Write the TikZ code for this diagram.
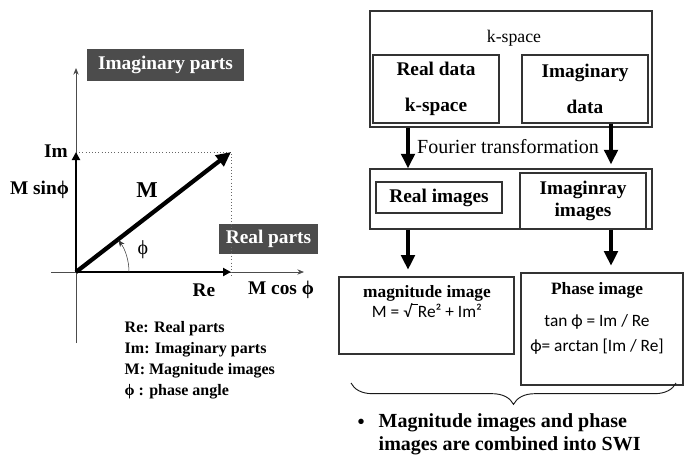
\documentclass[tikz,border=0pt]{standalone}
\usepackage{fontspec}
\setmainfont{Liberation Serif}
\newfontfamily\timesfont{Liberation Serif}
\newfontfamily\calibfont{Carlito}
\usetikzlibrary{arrows.meta,positioning,fit,decorations.pathreplacing}

\begin{document}
\begin{tikzpicture}[x=0.75pt,y=-0.75pt,
    box/.style={draw=black!80,line width=0.8pt,inner sep=0pt},
    tag/.style={fill=black!70,text=white,inner sep=0pt,font=\timesfont\bfseries\fontsize{14.5}{16}\selectfont},
    lab/.style={font=\timesfont\bfseries\fontsize{14.5}{16}\selectfont},
    plain/.style={font=\timesfont\fontsize{#1}{17}\selectfont},
    formula/.style={font=\calibfont\fontsize{13}{15}\selectfont},
    flow/.style={line width=3pt,-{Triangle[width=10pt,length=11pt]}},
    axis/.style={draw=black!70,line width=0.6pt,-{Stealth[length=5pt,width=4pt]}},
    comp/.style={line width=2pt,-{Triangle[width=6pt,length=6pt]}}]
    \useasboundingbox (0,0) rectangle (684,461);

    % phasor diagram
    \coordinate (O) at (76,272);
    \coordinate (S) at (231,152);
    \coordinate (ytop) at (76,68);
    \coordinate (ybot) at (76,343);
    \coordinate (xleft) at (51,272);
    \coordinate (xright) at (304,272);
    \draw[axis] (ybot) -- (ytop);
    \draw[axis] (xleft) -- (xright);

    \node[tag,minimum width=117.75pt,minimum height=24pt] (imtag) at (165.5,65) {Imaginary parts};
    \node[tag,minimum width=74.25pt,minimum height=22.5pt] (retag) at (268.5,239) {Real parts};

    \draw[dotted,black!60] (O |- S) -- (S) -- (S |- 0,277);
    \draw[comp] (O) -- (O |- S);
    \draw[comp] (O) -- (O -| S);
    \draw[line width=3.2pt,-{Triangle[width=10pt,length=11pt]}] (O) -- (S);
    \draw[black!80,-{Stealth[length=5pt,width=4pt]}] (129,272) arc[start angle=0,end angle=-37,radius=53];

    \node[lab] (imlab) at (56,151) {Im};
    \node[lab] (msin) at (39.5,190) {M sinϕ};
    \node[lab,font=\timesfont\bfseries\fontsize{17}{18}\selectfont] (mlab) at (147,190) {M};
    \node[plain=15] (philab) at (143,250) {ϕ};
    \node[lab] (relab) at (204,290) {Re};
    \node[lab] (mcos) at (281,290) {M cos ϕ};
    \node[anchor=north west,align=left,font=\timesfont\bfseries\fontsize{12}{15.75}\selectfont] (legend) at (120,317)
      {Re: Real parts\\Im: Imaginary parts\\M: Magnitude images\\ϕ : phase angle};

    % k-space and image boxes
    \node[box,fit={(370,11) (652,127)}] (kspace) {};
    \node[plain=13.3] (kspacelab) at (514,38) {k-space};
    \node[box,lab,minimum width=94.5pt,minimum height=51pt,align=center] (realdata) at (436,89) {Real data\\[11pt]k-space};
    \node[box,lab,minimum width=94.5pt,minimum height=51pt,align=center] (imagdata) at (585,89) {Imaginary\\[11pt]data};
    \node[plain=15] (fourier) at (508,147) {Fourier transformation};
    \node[box,fit={(370,169) (652,229)}] (images) {};
    \node[box,lab,minimum width=94.5pt,minimum height=23.25pt] (realimg) at (439,197.5) {Real images};
    \node[box,lab,fill=white,minimum width=94.5pt,minimum height=42pt,align=center] (imagimg) at (583,201) {Imaginray\\images};

    \node[box,minimum width=131.25pt,minimum height=57.75pt] (magbox) at (426.5,315.5) {};
    \node[lab,font=\timesfont\bfseries\fontsize{13}{15}\selectfont] (magtitle) at (427,293) {magnitude image};
    \node[formula] (magform) at (427,311) {M = √\raisebox{0.78em}{\rule{0.35em}{0.4pt}}Re² + Im²};
    \node[box,minimum width=121.5pt,minimum height=84pt] (phasebox) at (602,329) {};
    \node[lab,font=\timesfont\bfseries\fontsize{13}{15}\selectfont] (phasetitle) at (597,290) {Phase image};
    \node[formula] (tanform) at (597,322) {tan ϕ = Im / Re};
    \node[formula] (arcform) at (597,347) {ϕ= arctan [Im / Re]};

    % flow arrows
    \coordinate (colL) at (408,0);
    \coordinate (colR) at (611,0);
    \draw[flow] (kspace.south -| colL) -- (images.north -| colL);
    \draw[flow] (imagdata.south -| colR) -- ([yshift=6pt]imagimg.north -| colR);
    \draw[flow,shorten >=5pt] (images.south -| colL) -- (magbox.north -| colL);
    \draw[flow,shorten >=5pt] (imagimg.south -| colR) -- (phasebox.north -| colR);

    % combination
    \coordinate (bl) at (351,383);
    \coordinate (br) at (676,383);
    \draw[black!90,line width=0.7pt,decorate,decoration={brace,mirror,amplitude=16pt}] (bl) -- (br);
    \node[font=\timesfont\bfseries\fontsize{15}{17}\selectfont] (dot) at (361,424) {•};
    \node[anchor=west,align=left,font=\timesfont\bfseries\fontsize{15}{17}\selectfont] (swi) at (374,434)
      {Magnitude images and phase\\images are combined into SWI};
\end{tikzpicture}
\end{document}
